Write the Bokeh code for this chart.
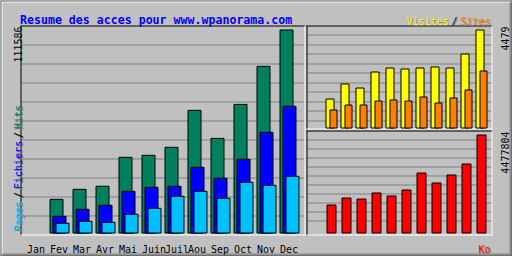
import math
from bokeh.plotting import figure
from bokeh.models import Range1d, ColumnDataSource
from bokeh.transform import dodge
from bokeh.core.properties import value
from bokeh.embed import file_html
from bokeh.resources import INLINE

# ---------------- data ----------------
months = ["Jan", "Fev", "Mar", "Avr", "Mai", "Juin", "Juil", "Aou", "Sep", "Oct", "Nov", "Dec"]
hits   = [0, 18500, 24000, 25700, 41600, 42700, 47100, 67400, 52000, 70700, 91600, 111586]
files  = [0, 9180, 13030, 15230, 22920, 25120, 25670, 36110, 30070, 40510, 55350, 69650]
pages  = [0, 5330, 6430, 5880, 10280, 13580, 20170, 22920, 19070, 27870, 26220, 31170]
visits = [0, 1325, 2011, 1828, 2559, 2742, 2697, 2742, 2788, 2742, 3382, 4479]
sites  = [0, 823, 1051, 1051, 1234, 1280, 1234, 1417, 1143, 1371, 1737, 2605]
kbytes = [0, 1279400, 1599200, 1553500, 1827700, 1690600, 1964800, 2741500, 2284600,
          2650100, 3152700, 4477804]

title_text = "Resume des acces pour www.wpanorama.com"
lbl_pages, lbl_files, lbl_hits = "Pages", "Fichiers", "Hits"
lbl_visits, lbl_sites, lbl_kb = "Visites", "Sites", "Ko"

# ---------------- style ----------------
GREY, DKGREY, WHITE, BLACK = "#c0c0c0", "#808080", "#ffffff", "#000000"
C_HITS, C_FILES, C_PAGES = "#00805c", "#0000ff", "#00c0ff"
C_VISITS, C_SITES, C_KB = "#ffff00", "#ff8000", "#ff0000"
MONO = value("DejaVu Sans Mono")

W, H = 512, 256
p = figure(width=W, height=H, output_backend="svg", toolbar_location=None,
           x_range=Range1d(0, W), y_range=Range1d(H, 0),
           x_axis_location=None, y_axis_location=None, min_border=0,
           background_fill_color=GREY, border_fill_color=GREY,
           outline_line_color=None)
p.grid.visible = False


def xr(v0, p0, v1, p1):
    k = (p1 - p0) / (v1 - v0)
    s = v0 - p0 / k
    return Range1d(s, s + W / k)


def yr(v0, p0, v1, p1):
    b0, b1 = H - p0, H - p1
    k = (b1 - b0) / (v1 - v0)
    s = v0 - b0 / k
    return Range1d(s, s + H / k)


p.extra_x_ranges = {"mx": xr(0, 26.5, 1, 49.5), "rx": xr(0, 310.5, 1, 325.5)}
p.extra_y_ranges = {"my": yr(0, 232.5, max(hits), 29.5),
                    "vy": yr(0, 127.5, max(visits), 29.5),
                    "ky": yr(0, 232.5, max(kbytes), 134.5)}

# ---------------- decoration lines ----------------
segs = dict(x0=[], y0=[], x1=[], y1=[], c=[])


def hline(r, a, b, c):
    segs["x0"].append(a); segs["x1"].append(b + 1)
    segs["y0"].append(r + 0.5); segs["y1"].append(r + 0.5); segs["c"].append(c)


def vline(col, a, b, c):
    segs["x0"].append(col + 0.5); segs["x1"].append(col + 0.5)
    segs["y0"].append(a); segs["y1"].append(b + 1); segs["c"].append(c)


# grid lines
for i in range(1, 11):
    hline(25 + 19 * i, 21, 303, DKGREY)
    hline(int(25 + 9.5 * i), 307, 490, DKGREY)
    hline(130 + 9 * i, 307, 490, DKGREY)

p.segment(x0="x0", y0="y0", x1="x1", y1="y1", line_color="c", line_width=1,
          source=ColumnDataSource(segs))

frame = dict(x0=[], y0=[], x1=[], y1=[], c=[])
segs = frame
# outer border
hline(0, 0, 511, BLACK); hline(255, 0, 511, BLACK)
vline(0, 0, 255, BLACK); vline(511, 0, 255, BLACK)
hline(1, 1, 510, WHITE); vline(1, 1, 254, WHITE)
hline(254, 1, 510, DKGREY); hline(253, 2, 510, DKGREY)
vline(510, 1, 254, DKGREY); vline(509, 2, 254, DKGREY)
# main panel
hline(25, 20, 304, BLACK); vline(20, 25, 234, BLACK)
hline(234, 20, 304, WHITE); vline(304, 25, 234, WHITE)
# upper right panel
hline(25, 306, 491, BLACK); vline(306, 25, 128, BLACK)
hline(128, 306, 491, WHITE); vline(491, 25, 128, WHITE)
# lower right panel
hline(130, 306, 491, BLACK); vline(306, 130, 234, BLACK)
hline(234, 306, 491, WHITE); vline(491, 130, 234, WHITE)
p.segment(x0="x0", y0="y0", x1="x1", y1="y1", line_color="c", line_width=1,
          source=ColumnDataSource(frame))

# ---------------- bars ----------------
idx = [i for i in range(12) if hits[i] > 0]
src = ColumnDataSource(dict(m=idx,
                            hits=[hits[i] for i in idx],
                            files=[files[i] for i in idx],
                            pages=[pages[i] for i in idx],
                            visits=[visits[i] for i in idx],
                            sites=[sites[i] for i in idx],
                            kbytes=[kbytes[i] for i in idx]))

for col, color, off in (("hits", C_HITS, 0), ("files", C_FILES, 3), ("pages", C_PAGES, 6)):
    p.vbar(x=dodge("m", (off + 6.5) / 23), width=13 / 23, bottom=0, top=col,
           fill_color=color, line_color=BLACK, line_width=1, source=src,
           x_range_name="mx", y_range_name="my")

p.vbar(x=dodge("m", 4 / 15), width=8 / 15, bottom=0, top="visits",
       fill_color=C_VISITS, line_color=BLACK, line_width=1, source=src,
       x_range_name="rx", y_range_name="vy")
p.vbar(x=dodge("m", 7.5 / 15), width=7 / 15, bottom=0, top="sites",
       fill_color=C_SITES, line_color=BLACK, line_width=1, source=src,
       x_range_name="rx", y_range_name="vy")
p.vbar(x=dodge("m", 5.5 / 15), width=9 / 15, bottom=0, top="kbytes",
       fill_color=C_KB, line_color=BLACK, line_width=1, source=src,
       x_range_name="rx", y_range_name="ky")

# ---------------- texts ----------------


def txt(x, y, s, color, size="10px", bold=False, angle=0.0, align="left", shadow=False):
    if shadow:
        p.text(x=[x + 1], y=[y + 1], text=[s], text_color=DKGREY, text_font=MONO,
               text_font_size=value(size), text_font_style="bold" if bold else "normal",
               angle=angle, text_align=align, text_baseline="alphabetic")
    p.text(x=[x], y=[y], text=[s], text_color=color, text_font=MONO,
           text_font_size=value(size), text_font_style="bold" if bold else "normal",
           angle=angle, text_align=align, text_baseline="alphabetic")


txt(19.5, 19, title_text, C_FILES, size="11.6px", bold=True)

CH = 6  # character cell width of the small font
# legend top right
wv, ws = len(lbl_visits) * CH, len(lbl_sites) * CH
txt(490 - wv - ws - 12, 20.5, lbl_visits, C_VISITS, shadow=True)
txt(490 - ws - 9, 20.5, "/", BLACK, shadow=True)
txt(490 - ws, 20.5, lbl_sites, C_SITES, shadow=True)

# left vertical legend ("Pages / Fichiers / Hits")
up = math.pi / 2
wp, wf = len(lbl_pages) * CH, len(lbl_files) * CH
y0 = 230.5
for s, c, dy in ((lbl_pages, C_PAGES, 0), ("/", BLACK, wp + 3), (lbl_files, C_FILES, wp + 12),
                 ("/", BLACK, wp + wf + 15), (lbl_hits, C_HITS, wp + wf + 24)):
    txt(17.5, y0 - dy, s, c, angle=up, shadow=True)

# max values
txt(17.5, 26, str(max(hits)), BLACK, angle=up, align="right")
txt(504, 26, str(max(visits)), BLACK, angle=up, align="right")
txt(504, 131, str(max(kbytes)), BLACK, angle=up, align="right")

# month labels
p.text(x=list(range(12)), y=[248.5] * 12, text=months, text_color=BLACK,
       text_font=MONO, text_font_size=value("10px"), text_align="left",
       text_baseline="alphabetic", x_range_name="mx")

txt(490 - len(lbl_kb) * CH, 248.5, lbl_kb, C_KB, shadow=True)

open("out.html", "w").write(file_html(p, INLINE))
